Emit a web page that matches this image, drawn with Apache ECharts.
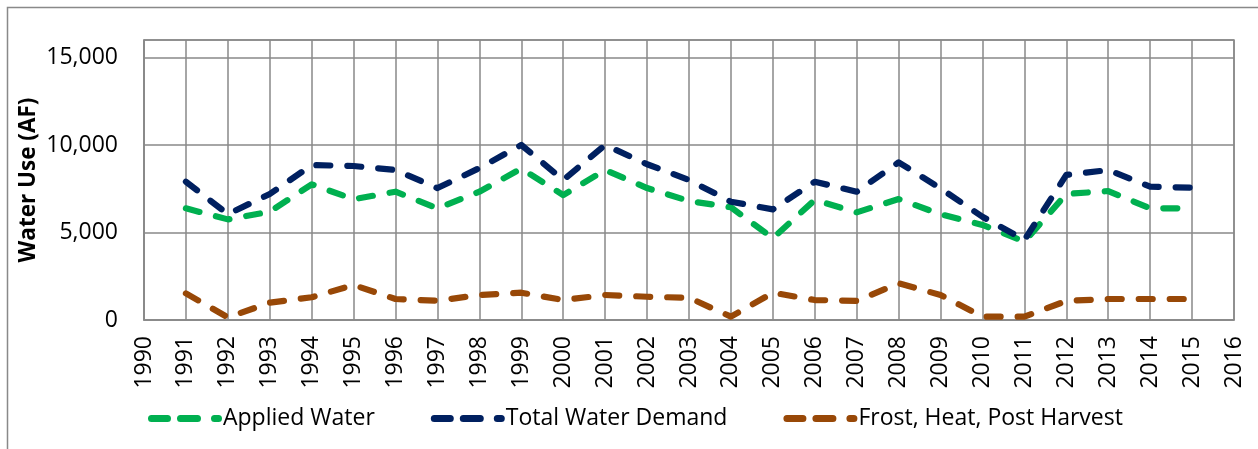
<!DOCTYPE html>
<html>
<head>
<meta charset="utf-8">
<script src="https://cdn.jsdelivr.net/npm/echarts@6/dist/echarts.min.js"></script>
<style>
html,body{margin:0;padding:0;background:#fff;}
#chart{width:1258px;height:449px;}
</style>
</head>
<body>
<div id="chart"></div>
<script>
const years = [1991,1992,1993,1994,1995,1996,1997,1998,1999,2000,2001,2002,2003,2004,2005,2006,2007,2008,2009,2010,2011,2012,2013,2014,2015];
const appliedWater = [6380,5750,6190,7750,6900,7330,6380,7330,8650,7140,8570,7540,6800,6440,4670,6860,6150,6910,6040,5430,4480,7200,7370,6380,6380];
const totalWaterDemand = [7900,6050,7200,8850,8800,8570,7540,8680,10000,8000,10000,8900,8000,6760,6320,7900,7330,9010,7520,5900,4570,8290,8570,7620,7560];
const frostHeatPostHarvest = [1520,150,990,1300,2000,1200,1100,1430,1560,1140,1430,1330,1270,190,1560,1140,1090,2100,1430,190,190,1090,1200,1200,1200];
const seriesNames = ['Applied Water','Total Water Demand','Frost, Heat, Post Harvest'];
const seriesColors = ['#00B050','#002060','#984807'];

const font = '"Open Sans", "Liberation Sans", Arial, sans-serif';
const pairs = arr => years.map((y,i)=>[y,arr[i]]);
const dash = [14,17];
// legend sample: two dashes and a dot, 74 x 7
const legendIcon = 'path://M3.5,0 H19.5 A3.5,3.5 0 0 1 19.5,7 H3.5 A3.5,3.5 0 0 1 3.5,0 Z ' +
  'M32.5,0 H49.5 A3.5,3.5 0 0 1 49.5,7 H32.5 A3.5,3.5 0 0 1 32.5,0 Z ' +
  'M66.5,0 H70.5 A3.5,3.5 0 0 1 70.5,7 H66.5 A3.5,3.5 0 0 1 66.5,0 Z';
function mk(name, data, color){
  return {
    name, type:'line', data: pairs(data), symbol:'none', smooth:false,
    lineStyle:{color, width:6.2, type:dash, cap:'round', join:'round'},
    itemStyle:{color}
  };
}
const chart = echarts.init(document.getElementById('chart'), null, {renderer:'canvas'});
chart.setOption({
  animation:false,
  backgroundColor:'#fff',
  graphic:[{type:'rect', shape:{x:7.5,y:7.5,width:1260,height:460}, style:{fill:'none', stroke:'#898989', lineWidth:1.5}, silent:true}],
  grid:{left:144, top:40, right:24, bottom:129, show:true, borderColor:'#898989', borderWidth:1.5},
  legend:{
    left:143, top:402, itemWidth:74, itemHeight:7, itemGap:56, symbolKeepAspect:false,
    textStyle:{fontFamily:font, fontSize:23, color:'#000', padding:[0,0,0,-4]},
    data: seriesNames.map(n=>({name:n, icon:legendIcon}))
  },
  xAxis:{
    type:'value', min:1990, max:2016, interval:1,
    axisLine:{show:true, lineStyle:{color:'#898989', width:1.5}},
    axisTick:{show:false},
    splitLine:{show:true, lineStyle:{color:'#898989', width:1.5}},
    axisLabel:{rotate:90, margin:16, fontFamily:font, fontSize:23, color:'#000', formatter:v=>String(v), showMinLabel:true, showMaxLabel:true}
  },
  yAxis:{
    type:'value', min:0, max:16000, interval:5000,
    name:'Water Use (AF)', nameLocation:'middle', nameRotate:90, nameGap:115, nameMoveOverlap:false,
    nameTextStyle:{fontFamily:font, fontSize:22.5, fontWeight:'bold', color:'#000', verticalAlign:'middle'},
    axisLine:{show:true, lineStyle:{color:'#898989', width:1.5}},
    axisTick:{show:false},
    splitLine:{show:true, lineStyle:{color:'#898989', width:1.5}},
    axisLabel:{margin:26, fontFamily:font, fontSize:23, color:'#000', showMaxLabel:false}
  },
  series:[
    mk(seriesNames[0], appliedWater, seriesColors[0]),
    mk(seriesNames[1], totalWaterDemand, seriesColors[1]),
    mk(seriesNames[2], frostHeatPostHarvest, seriesColors[2])
  ]
});
</script>
</body>
</html>
